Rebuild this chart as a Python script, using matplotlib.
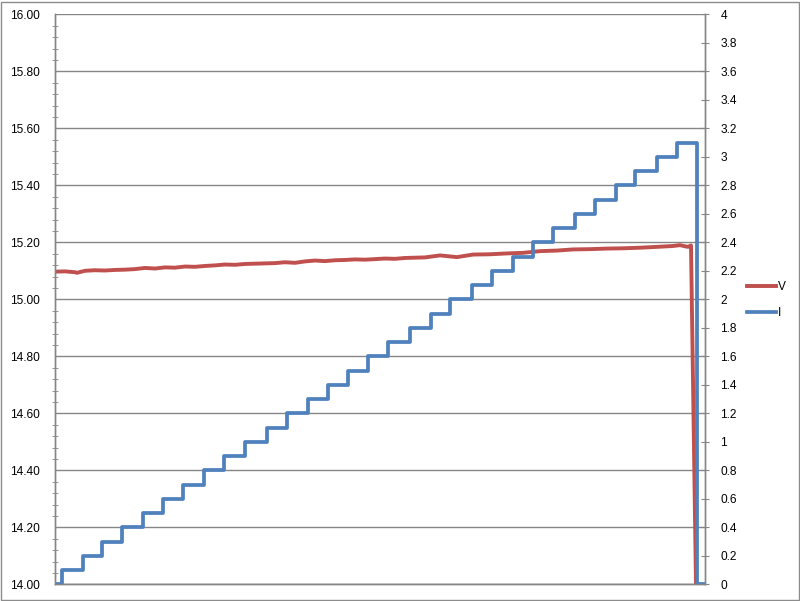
import matplotlib
matplotlib.use("Agg")
import matplotlib.pyplot as plt
from matplotlib.patches import Rectangle
from matplotlib.lines import Line2D
from matplotlib.ticker import MultipleLocator, FixedLocator

plt.rcParams['font.family'] = ['Liberation Sans', 'DejaVu Sans']

# ---- data ----
v_x = [0, 10, 20, 22, 30, 40, 50, 60, 70, 80, 90, 100, 110, 120, 130, 140, 150,
       160, 170, 180, 190, 200, 210, 220, 230, 240, 250, 260, 270, 280, 290, 300,
       310, 320, 330, 340, 350, 360, 370, 385, 402, 418, 435, 452, 468, 485, 502,
       518, 535, 552, 568, 585, 602, 618, 625, 630, 633, 636, 641]
v_vals = [15.097, 15.098, 15.095, 15.093, 15.100, 15.102, 15.101, 15.103, 15.104,
          15.106, 15.110, 15.108, 15.112, 15.111, 15.115, 15.114, 15.117, 15.119,
          15.122, 15.121, 15.124, 15.125, 15.126, 15.127, 15.130, 15.128, 15.133,
          15.136, 15.134, 15.137, 15.138, 15.140, 15.139, 15.141, 15.143, 15.142,
          15.145, 15.146, 15.147, 15.154, 15.148, 15.157, 15.158, 15.161, 15.163,
          15.169, 15.171, 15.175, 15.176, 15.178, 15.179, 15.181, 15.184, 15.187,
          15.190, 15.186, 15.184, 15.189, 14.00]

i_x = [0, 7, 28, 47, 67, 88, 108, 128, 149, 169, 190, 212, 232, 253, 273, 293, 313,
       333, 355, 376, 395, 417, 437, 458, 478, 498, 520, 540, 561, 580, 602, 622,
       642, 650]
i_vals = [0.0, 0.1, 0.2, 0.3, 0.4, 0.5, 0.6, 0.7, 0.8, 0.9, 1.0, 1.1, 1.2, 1.3, 1.4,
          1.5, 1.6, 1.7, 1.8, 1.9, 2.0, 2.1, 2.2, 2.3, 2.4, 2.5, 2.6, 2.7, 2.8, 2.9,
          3.0, 3.1, 0.0, 0.0]

left_ticks = [14.0 + 0.2 * k for k in range(11)]
right_ticks = [0.2 * k for k in range(21)]

RED = '#C0504D'
BLUE = '#4F81BD'
GRID = '#868686'

fig = plt.figure(figsize=(8.0, 6.01), dpi=100)
fig.patch.set_facecolor('white')
fig.patches.append(Rectangle((0.5 / 800, 1.5 / 601), 798 / 800, 598 / 601,
                             transform=fig.transFigure, fill=False,
                             edgecolor='#8c8c8c', linewidth=1.0))

ax = fig.add_axes([55 / 800, 16.7 / 601, 650 / 800, 570 / 601])
ax2 = ax.twinx()

ax.plot(v_x, v_vals, color=RED, linewidth=2.8, solid_joinstyle='round')
ax2.plot(i_x, i_vals, color=BLUE, linewidth=2.7, drawstyle='steps-post',
         solid_joinstyle='round')

ax.set_xlim(0, 650)
ax.set_ylim(14.0, 16.0)
ax2.set_ylim(0, 4.0)

ax.yaxis.set_major_locator(FixedLocator(left_ticks))
ax.yaxis.set_minor_locator(MultipleLocator(0.04))
ax.set_yticklabels([f"{t:.2f}" for t in left_ticks])
ax2.yaxis.set_major_locator(FixedLocator(right_ticks))
ax2.set_yticklabels([f"{t:.1f}".rstrip('0').rstrip('.') if t != 0 else "0"
                     for t in right_ticks])

ax.set_xticks([])
ax.grid(axis='y', which='major', color=GRID, linewidth=1.0)
ax.set_axisbelow(True)

for a in (ax, ax2):
    for s in ('top',):
        a.spines[s].set_visible(False)
    for s in ('left', 'right', 'bottom'):
        a.spines[s].set_color(GRID)
        a.spines[s].set_linewidth(1.0)

ax.tick_params(axis='y', which='major', direction='out', length=0, pad=11,
               labelsize=8.6, colors=GRID, labelcolor='black')
ax.tick_params(axis='y', which='minor', direction='inout', length=5,
               colors=GRID)
ax2.tick_params(axis='y', which='major', direction='inout', length=6, pad=8,
                labelsize=8.6, colors=GRID, labelcolor='black')

handles = [Line2D([], [], color=RED, linewidth=2.8),
           Line2D([], [], color=BLUE, linewidth=2.7)]
fig.legend(handles, ['V', 'I'], loc='center left',
           bbox_to_anchor=(747 / 800, 1 - 300 / 601), frameon=False,
           fontsize=8.6, handlelength=2.4, handletextpad=0.15,
           labelspacing=1.2, borderaxespad=0, borderpad=0)

fig.savefig('out.png', dpi=100, facecolor='white')
